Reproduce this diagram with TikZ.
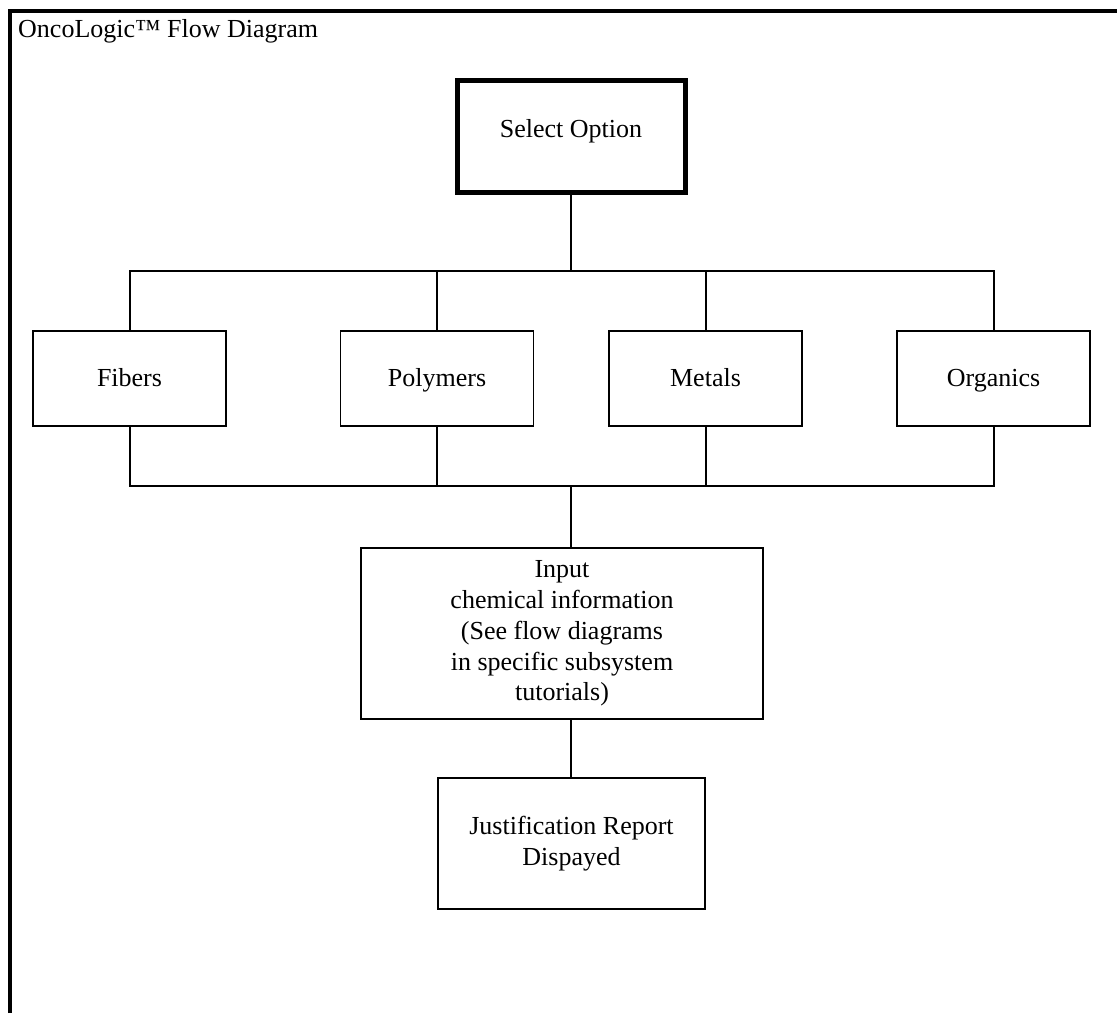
\documentclass[tikz,border=0pt]{standalone}
\usepackage{fontspec}
\setmainfont{Liberation Serif}
\begin{document}
\begin{tikzpicture}[x=1pt,y=-1pt,
  every node/.style={font=\fontsize{26}{30.8}\selectfont, inner sep=0pt, align=center},
  selbox/.style={draw, line width=5pt, minimum width=228pt, minimum height=112pt, text height=18pt, text depth=16pt},
  catbox/.style={draw, line width=1.2pt, minimum width=193pt, minimum height=95pt, text height=18pt, text depth=2pt},
  bigbox/.style={draw, line width=2.5pt},
  conn/.style={line width=1.6pt},
  bus/.style={line width=1.2pt}
]
\useasboundingbox (0,0) rectangle (1117,1013);
% frame
\draw[line width=4pt, line join=miter] (10,1013) -- (10,11) -- (1117,11);
\node[anchor=base west] (title) at (18,37) {OncoLogic™ Flow Diagram};

\node[selbox] (sel) at (571,136.5) {Select Option};

\node[catbox] (fib) at (129.5,378.5) {Fibers};
\node[catbox] (pol) at (437,378.5) {Polymers};
\node[catbox] (met) at (705.5,378.5) {Metals};
\node[catbox] (org) at (993.5,378.5) {Organics};

\node[bigbox, minimum width=402pt, minimum height=171pt] (inp) at (562,633.5) {Input\\chemical information\\(See flow diagrams\\in specific subsystem\\tutorials)};

\node[bigbox, minimum width=267pt, minimum height=131pt] (jus) at (571.5,843.5) {Justification Report\\Dispayed};

\coordinate (tbus) at (571,271);
\coordinate (bbus) at (571,486);

\draw[conn] (sel.south) -- (tbus);
\draw[bus] (fib.north -| 130,0) |- (tbus);
\draw[bus] (org.north -| 994,0) |- (tbus);
\draw[conn] (fib.north -| 130,0) -- (130,271);
\draw[conn] (org.north -| 994,0) -- (994,271);
\draw[conn] (pol.north) -- (pol.north |- tbus);
\draw[conn] (met.north -| 706,0) -- (706,271);

\draw[bus] (fib.south -| 130,0) |- (bbus);
\draw[bus] (org.south -| 994,0) |- (bbus);
\draw[conn] (fib.south -| 130,0) -- (130,486);
\draw[conn] (org.south -| 994,0) -- (994,486);
\draw[conn] (pol.south) -- (pol.south |- bbus);
\draw[conn] (met.south -| 706,0) -- (706,486);

\draw[conn] (bbus) -- (inp.north -| bbus);
\draw[conn] (inp.south -| 571,0) -- (jus.north -| 571,0);
\end{tikzpicture}
\end{document}
